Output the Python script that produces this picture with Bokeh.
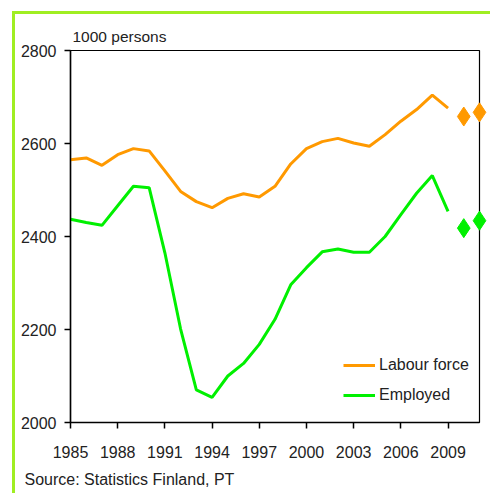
from bokeh.plotting import figure
from bokeh.models import Title, Legend, LegendItem, FixedTicker, Range1d
from bokeh.embed import file_html
from bokeh.resources import INLINE

years = list(range(1985, 2010))
labour_force = [2565, 2569, 2553, 2576, 2589, 2584, 2541, 2497, 2475, 2462, 2482, 2492,
                2485, 2508, 2556, 2589, 2604, 2611, 2601, 2594, 2619, 2648, 2673, 2704, 2676]
employed = [2437, 2430, 2424, 2466, 2508, 2505, 2365, 2201, 2070, 2054, 2100, 2127,
            2168, 2222, 2296, 2333, 2367, 2373, 2366, 2366, 2400, 2447, 2493, 2531, 2454]
forecast_years = [2010, 2011]
labour_force_fc = [2658, 2667]
employed_fc = [2418, 2434]
x_ticks = [1985, 1988, 1991, 1994, 1997, 2000, 2003, 2006, 2009]
y_ticks = [2000, 2200, 2400, 2600, 2800]

ORANGE = "#FF9900"
GREEN = "#00F000"
BORDER = "#A0EE22"
FONT = "Liberation Sans"
TEXT = "#222222"

p = figure(width=478, height=482, output_backend="svg", toolbar_location=None,
           x_range=Range1d(1985, 2011), y_range=Range1d(2000, 2800),
           min_border_left=55, min_border_right=14, min_border_top=36, min_border_bottom=74)
p.styles = {"border-left": f"3px solid {BORDER}", "border-top": f"3px solid {BORDER}",
            "transform": "translate(12px, 11px)"}

p.grid.visible = False
p.outline_line_color = "black"
p.outline_line_width = 1.2

for ax in (p.xaxis, p.yaxis):
    ax.axis_line_color = "black"
    ax.axis_line_width = 1.5
    ax.major_tick_line_color = "black"
    ax.major_tick_line_width = 1.5
    ax.major_tick_out = 6
    ax.major_tick_in = 0
    ax.minor_tick_line_color = None
    ax.major_label_text_font = FONT
    ax.major_label_text_font_size = "16px"
    ax.major_label_text_color = TEXT

p.xaxis.ticker = FixedTicker(ticks=x_ticks)
p.yaxis.ticker = FixedTicker(ticks=y_ticks)
p.xaxis.major_label_standoff = 17
p.yaxis.major_label_standoff = 8

r1 = p.line(years, labour_force, line_color=ORANGE, line_width=3)
r2 = p.line(years, employed, line_color=GREEN, line_width=3)
p.scatter(forecast_years, labour_force_fc, marker="diamond", size=19, color=ORANGE, level="overlay")
p.scatter(forecast_years, employed_fc, marker="diamond", size=19, color=GREEN, level="overlay")

legend = Legend(items=[LegendItem(label="Labour force", renderers=[r1]),
                       LegendItem(label="Employed", renderers=[r2])],
                location=(273, 17), border_line_color=None, background_fill_alpha=0,
                glyph_width=32, glyph_height=20, label_standoff=4, spacing=10,
                padding=0, margin=0, label_text_font=FONT, label_text_font_size="16px",
                label_text_color=TEXT)
p.add_layout(legend, "center")

p.add_layout(Title(text="1000 persons", align="left", offset=2, standoff=11,
                   text_font=FONT, text_font_size="15.5px", text_font_style="normal",
                   text_color=TEXT), "above")
p.add_layout(Title(text="Source: Statistics Finland, PT", align="left", offset=-46, standoff=16,
                   text_font=FONT, text_font_size="16px", text_font_style="normal",
                   text_color=TEXT), "below")

open("out.html", "w").write(file_html(p, INLINE))
